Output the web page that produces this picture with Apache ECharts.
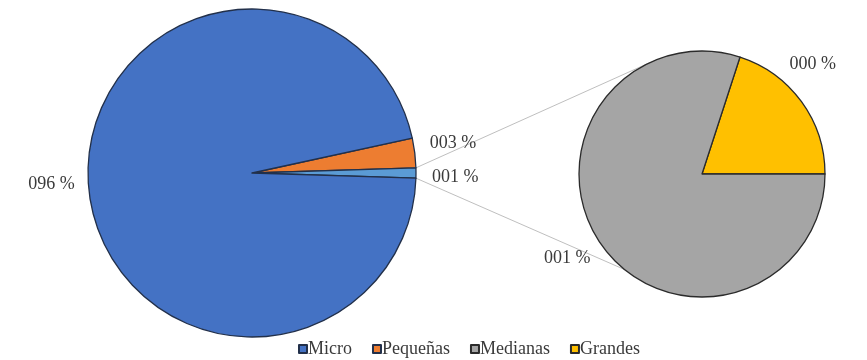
<!DOCTYPE html>
<html>
<head>
<meta charset="utf-8">
<style>
  html, body { margin: 0; padding: 0; background: #ffffff; }
  #chart { width: 867px; height: 360px; }
</style>
<script src="https://cdn.jsdelivr.net/npm/echarts@6/dist/echarts.min.js"></script>
</head>
<body>
<div id="chart"></div>
<script>
// Share of companies by size (percent of total)
const mainNames = ['Pequeñas', 'Otros', 'Micro'];
const microValue = 96.1;
const pequenasValue = 2.9;
const detailNames = ['Grandes', 'Medianas'];
const detailValues = [0.2, 0.8];
const legendNames = ['Micro', 'Pequeñas', 'Medianas', 'Grandes'];

const colors = {
  Micro: '#4472C4',
  'Pequeñas': '#ED7D31',
  Otros: '#5B9BD5',
  Medianas: '#A5A5A5',
  Grandes: '#FFC000'
};

const otrosValue = detailValues.reduce((a, b) => a + b, 0);
const mainValues = [pequenasValue, otrosValue, microValue];
const mainTotal = mainValues.reduce((a, b) => a + b, 0);
const detailTotal = otrosValue;

// geometry of the two pies
const mainCenter = [252, 173], mainRadius = 164;
const detailCenter = [702, 174], detailRadius = 123;

// "Otros" is centred on the 3 o'clock direction, "Pequeñas" sits just above it
const otrosHalfDeg = otrosValue / mainTotal * 360 / 2;
const mainStart = otrosHalfDeg + pequenasValue / mainTotal * 360;
const detailStart = detailValues[0] / detailTotal * 360;

const fmt = v => String(Math.round(v)).padStart(3, '0') + ' %';
const fontFamily = '"Liberation Serif", "DejaVu Serif", serif';
const textColor = '#3a3a3a';
const fontSize = 18;

// connector lines from the "Otros" slice to the detail pie
const rad = d => d * Math.PI / 180;
const onCircle = (c, r, deg) => [c[0] + r * Math.cos(rad(deg)), c[1] - r * Math.sin(rad(deg))];
const upA = onCircle(mainCenter, mainRadius, otrosHalfDeg);
const loA = onCircle(mainCenter, mainRadius, -otrosHalfDeg);
const upB = onCircle(detailCenter, detailRadius, 115);
const loB = onCircle(detailCenter, detailRadius, 231);

const chart = echarts.init(document.getElementById('chart'), null, { renderer: 'canvas' });

// nudges for the data labels, in pixels
const labelOffsets = {
  main: { 'Pequeñas': [-4, -8], Otros: [-3, 4], Micro: [5, -5] },
  detail: { Grandes: [-29, -32], Medianas: [5, 6] }
};

chart.setOption({
  animation: false,
  backgroundColor: '#ffffff',
  color: legendNames.map(n => colors[n]),
  legend: {
    data: legendNames,
    bottom: -3,
    left: 293,
    icon: 'rect',
    itemWidth: 8,
    itemHeight: 8,
    itemGap: 20,
    textStyle: { fontFamily, fontSize, color: textColor, padding: [0, 0, 0, -4] }
  },
  graphic: [
    { type: 'line', shape: { x1: upA[0], y1: upA[1], x2: upB[0], y2: upB[1] }, style: { stroke: '#BFBFBF', lineWidth: 1 }, z: 0 },
    { type: 'line', shape: { x1: loA[0], y1: loA[1], x2: loB[0], y2: loB[1] }, style: { stroke: '#BFBFBF', lineWidth: 1 }, z: 0 }
  ],
  series: [
    {
      name: 'main',
      type: 'pie',
      center: mainCenter,
      radius: [0, mainRadius],
      startAngle: mainStart,
      clockwise: true,
      avoidLabelOverlap: false,
      minAngle: 0,
      itemStyle: { borderColor: '#22304a', borderWidth: 1.3 },
      label: {
        show: true,
        position: 'outside',
        fontFamily, fontSize, color: textColor,
        formatter: p => fmt(p.value)
      },
      labelLine: { show: false, length: 10, length2: 4 },
      emphasis: { disabled: true },
      labelLayout: p => {
        const o = labelOffsets.main[mainNames[p.dataIndex]] || [0, 0];
        return { dx: o[0], dy: o[1] };
      },
      data: mainNames.map((n, i) => ({
        name: n,
        value: mainValues[i],
        itemStyle: { color: colors[n] }
      }))
    },
    {
      name: 'detail',
      type: 'pie',
      center: detailCenter,
      radius: [0, detailRadius],
      startAngle: detailStart,
      clockwise: true,
      avoidLabelOverlap: false,
      itemStyle: { borderColor: '#2b2b2b', borderWidth: 1.3 },
      label: {
        show: true,
        position: 'outside',
        fontFamily, fontSize, color: textColor,
        formatter: p => fmt(p.value)
      },
      labelLine: { show: false, length: 10, length2: 4 },
      emphasis: { disabled: true },
      labelLayout: p => {
        const o = labelOffsets.detail[detailNames[p.dataIndex]] || [0, 0];
        return { dx: o[0], dy: o[1] };
      },
      data: detailNames.map((n, i) => ({
        name: n,
        value: detailValues[i],
        itemStyle: { color: colors[n] }
      }))
    }
  ]
});
</script>
</body>
</html>
